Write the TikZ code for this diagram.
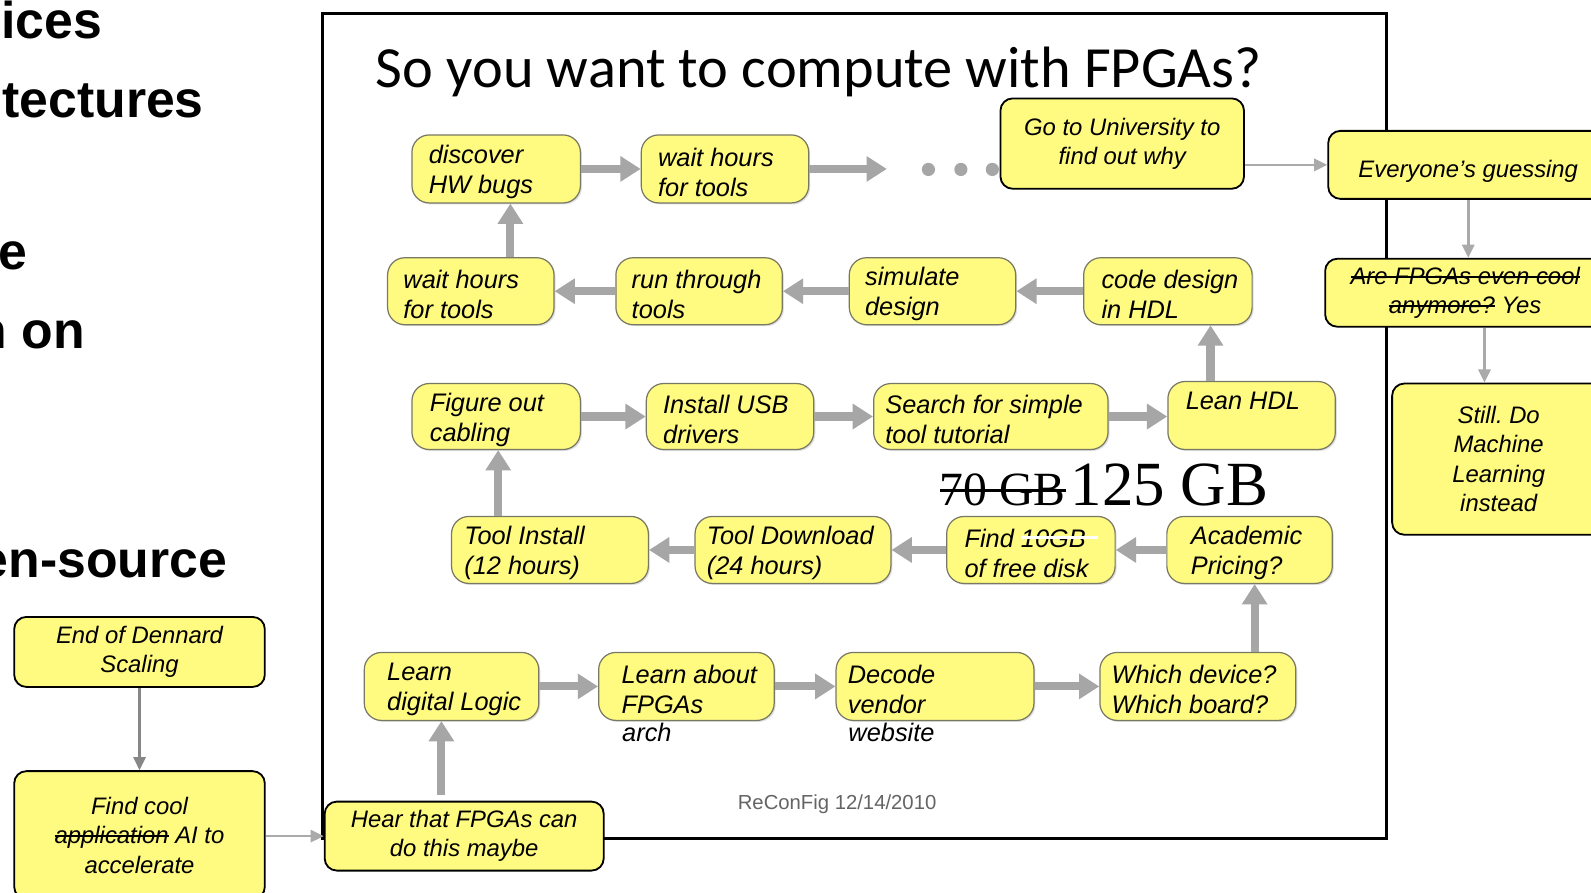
\documentclass[tikz,border=0pt]{standalone}
\usepackage{fontspec}
\newfontfamily\af{Liberation Sans}
\newfontfamily\cf{Carlito}
\newfontfamily\tf{Liberation Serif}
\usetikzlibrary{arrows.meta,calc,shadows}
\frenchspacing
\definecolor{boxfill}{RGB}{255,250,128}
\definecolor{boxedge}{RGB}{120,120,100}
\definecolor{agray}{RGB}{166,166,166}
\definecolor{tgray}{RGB}{170,170,170}
\definecolor{dgray}{RGB}{135,135,135}
\definecolor{dategray}{RGB}{100,100,100}
\newcommand\strk[1]{\setbox0\hbox{#1}\rlap{\copy0}\rule[0.28em]{\wd0}{0.07em}}
\newcommand\wstrk[1]{\setbox0\hbox{#1}\rlap{\copy0}\textcolor{white}{\rule[0.32em]{\dimexpr\wd0+12pt\relax}{3pt}}\kern-12pt}
\newcommand\ibx[7]{%
  \node[ibox, minimum width=#4pt, minimum height=#5pt] (#1) at (#2,#3) {};
  \node[itext] (#1-t) at ([xshift=#6pt, yshift=-3pt]#1.west) {#7};}
\begin{document}
\begin{tikzpicture}[x=1pt,y=-1pt,
  ibox/.style={draw=boxedge, fill=boxfill, line width=1.2pt, rounded corners=17pt, inner sep=0pt,
    drop shadow={shadow xshift=1.5pt,shadow yshift=-1.5pt,opacity=0.25}},
  obox/.style={draw=black, fill=boxfill, line width=1.8pt, rounded corners=12pt, inner sep=0pt,
    align=center, font=\af\itshape\fontsize{23.5}{29}\selectfont,
    execute at begin node={\rule{0pt}{29pt}}},
  itext/.style={anchor=west, align=left, inner sep=0pt, font=\af\itshape\fontsize{25}{29.5}\selectfont},
  bigtxt/.style={anchor=base east, inner sep=0pt, font=\af\bfseries\fontsize{51}{55}\selectfont},
  barrow/.style={draw=agray, line width=8pt, -{Triangle[length=20pt,width=24pt]}},
  tarrow/.style={draw=tgray, line width=2.5pt, -{Triangle[length=13pt,width=12pt]}}]
\useasboundingbox (0,0) rectangle (1568,880);
\clip (0,0) rectangle (1568,880);
\fill[white] (0,0) rectangle (1568,880);

% left bold text fragments (cut by the left edge, as in the reference)
\node[bigtxt] (t1) at (101,38) {ices};
\node[bigtxt] (t2) at (201,116) {tectures};
\node[bigtxt] (t3) at (27,266) {e};
\node[bigtxt] (t4) at (84,343) {n on};
\node[bigtxt] (t5) at (224,569) {en-source};

% slide frame
\draw[line width=3pt] (318,13) rectangle (1366,826);
\node[anchor=base, inner sep=0pt, font=\cf\fontsize{57.5}{60}\selectfont] (title) at (807,86) {So you want to compute with FPGAs?};

% dots
\fill[agray] (915,167) circle (6.5pt);
\fill[agray] (947,167) circle (6.5pt);
\fill[agray] (978,167) circle (6.5pt);

% inner boxes
\ibx{discover}{489}{166.5}{166}{67}{17}{discover\\HW bugs}
\ibx{waitA}{714.5}{166.5}{165}{67}{17}{wait hours\\for tools}
\ibx{waitB}{464}{287}{164}{66}{16}{wait hours\\for tools}
\ibx{run}{689}{287}{164}{66}{16}{run through\\tools}
\ibx{sim}{919}{287}{164}{66}{16}{simulate\\design}
\ibx{code}{1151}{287}{166}{66}{18}{code design\\in HDL}
\ibx{figure}{489}{410.5}{166}{65}{18}{Figure out\\cabling}
\ibx{usb}{719.5}{410.5}{165}{65}{17}{Install USB\\drivers}
\ibx{search}{976.5}{410.5}{231}{65}{12}{Search for simple\\tool tutorial}
\node[ibox, minimum width=165pt, minimum height=67pt] (lean) at (1233.5,409.5) {};
\node[itext, anchor=base west] (lean-t) at ([xshift=18pt,yshift=-28pt]lean.north west) {Lean HDL};
\ibx{install}{542}{542}{194}{66}{13}{Tool Install\\(12 hours)}
\ibx{download}{781.5}{542}{193}{66}{12}{Tool Download\\(24 hours)}
\ibx{disk}{1016}{542}{166}{66}{18}{Find \wstrk{10GB}\\of free disk}
\ibx{academic}{1231.5}{542}{163}{66}{24}{Academic\\Pricing?}
\ibx{digital}{445}{676.5}{172}{67}{23}{Learn\\digital Logic}
\ibx{about}{676.5}{676.5}{173}{67}{23}{Learn about\\FPGAs}
\ibx{decode}{921.5}{676.5}{195}{67}{12}{Decode\\vendor}
\ibx{which}{1180.5}{676.5}{193}{67}{12}{Which device?\\Which board?}
\node[itext, anchor=base west] (arch) at (613,731) {arch};
\node[itext, anchor=base west] (website) at (836,731) {website};

\node[anchor=base west, inner sep=0pt] (gb) at (926,498)
  {\tf\fontsize{47}{50}\selectfont\strk{70 GB}\kern5pt\fontsize{62}{64}\selectfont 125 GB};

\node[anchor=base, inner sep=0pt, text=dategray, font=\af\fontsize{20}{24}\selectfont] (date) at (825,798) {ReConFig 12/14/2010};

% outer boxes
\node[obox, minimum width=240pt, minimum height=89pt] (uni) at (1106,141.5) {Go to University to\\find out why};
\node[obox, minimum width=276pt, minimum height=67pt] (every) at (1447,162.5) {Everyone’s guessing};
\node[obox, minimum width=276pt, minimum height=67pt] (cool) at (1444,288.5) {\strk{Are FPGAs even cool}\\\strk{anymore?} Yes};
\node[obox, minimum width=210pt, minimum height=149pt] (still) at (1477,452.5) {Still. Do\\Machine\\Learning\\instead};
\node[obox, minimum width=275pt, minimum height=68pt] (hear) at (457.5,824) {Hear that FPGAs can\\do this maybe};
\node[obox, minimum width=247pt, minimum height=69pt] (dennard) at (137.5,642.5) {End of Dennard\\Scaling};
\node[obox, minimum width=247pt, minimum height=126pt] (app) at (137.5,823) {Find cool\\\strk{application} AI to\\accelerate};

% block arrows
\coordinate (dend) at (874,166.5);
\draw[barrow] (discover) -- (waitA);
\draw[barrow] (waitA.east) -- (dend);
\draw[barrow] ([xshift=39pt]waitB.north) -- ([xshift=39pt]waitB.north |- discover.south);
\draw[barrow] (run) -- (waitB);
\draw[barrow] (sim) -- (run);
\draw[barrow] (code) -- (sim);
\draw[barrow] ($(install.north -| figure.south)+(2,0)$) -- ($(figure.south)+(2,0)$);
\draw[barrow] (figure) -- (usb);
\draw[barrow] (usb) -- (search);
\draw[barrow] (search.east) -- (search.east -| lean.west);
\draw[barrow] ($(lean.north -| code.south)+(42,0)$) -- ($(code.south)+(42,0)$);
\draw[barrow] (academic) -- (disk);
\draw[barrow] (disk) -- (download);
\draw[barrow] (download) -- (install);
\draw[barrow] ($(which.north -| academic.south)+(5,0)$) -- ($(academic.south)+(5,0)$);
\draw[barrow] (digital) -- (about);
\draw[barrow] (about) -- (decode);
\draw[barrow] (decode) -- (which);
\draw[barrow] ($(hear.north -| digital.south)+(-10,-6)$) -- ($(digital.south)+(-10,0)$);

% thin arrows
\draw[tarrow, draw=dgray] (dennard) -- (app);
\draw[tarrow] (app.east |- hear.west) -- (hear.west);
\draw[tarrow] (uni.east |- every.west) -- (every.west);
\draw[tarrow] (every.south) -- (every.south |- cool.north);
\draw[tarrow] ($(cool.south)+(19,0)$) -- ($(cool.south |- still.north)+(19,0)$);
\end{tikzpicture}
\end{document}
